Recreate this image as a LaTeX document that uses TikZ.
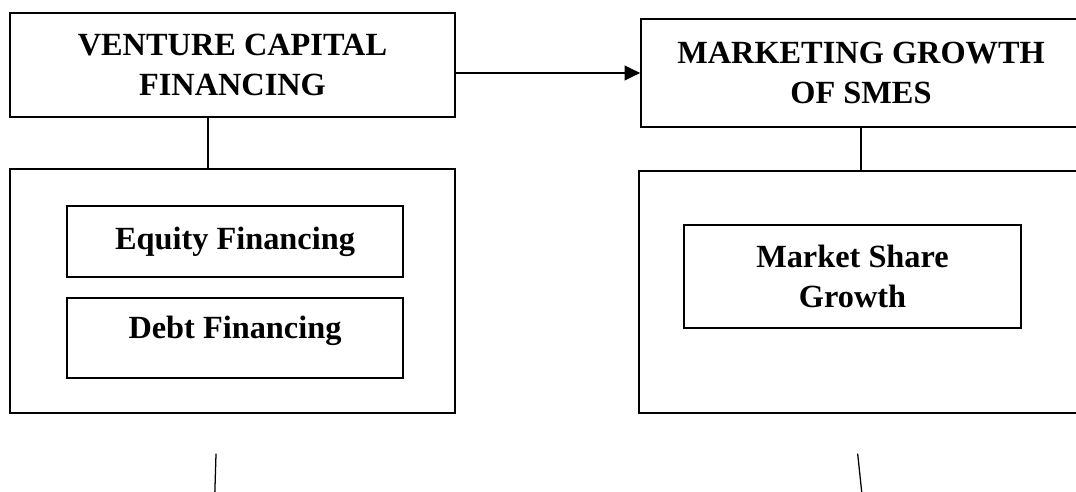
\documentclass[tikz,border=0pt]{standalone}
\usepackage{fontspec}
\setmainfont{Liberation Serif}
\usepackage{tikz}
\usetikzlibrary{arrows.meta,positioning}

\begin{document}
\begin{tikzpicture}[x=0.025cm,y=-0.025cm,line cap=round,line join=miter,
  outerbox/.style={draw=black,line width=1.2pt,inner sep=0pt,align=center},
  innerbox/.style={draw=black,line width=1.1pt,inner sep=0pt,align=center},
  boldtext/.style={font=\bfseries\fontsize{23}{28.4}\selectfont}]
\path[use as bounding box] (0,0) rectangle (1076,492);
\node[outerbox,boldtext,minimum width=11.125cm,minimum height=2.6cm] (vcf) at (232.5,65) {VENTURE CAPITAL\\FINANCING};
\node[outerbox,boldtext,minimum width=11cm,minimum height=2.7cm] (mgs) at (861,73) {MARKETING GROWTH\\OF SMES};
\node[outerbox,minimum width=11.125cm,minimum height=6.1cm] (vcfdim) at (232.5,291) {};
\node[outerbox,minimum width=11.1cm,minimum height=6.05cm] (mgsdim) at (861,292) {};
\node[innerbox,boldtext,minimum width=8.4cm,minimum height=1.775cm] (equity) at (235,241.5) {Equity Financing};
\node[innerbox,boldtext,minimum width=8.4cm,minimum height=2cm,text depth=15.2pt] (debt) at (235,338) {Debt Financing};
\node[innerbox,boldtext,minimum width=8.425cm,minimum height=2.575cm] (share) at (852.5,276.5) {Market Share\\Growth};
\draw[line width=1.3pt,-{Triangle[length=11pt,width=10.5pt]}] (mgs.west -| vcf.east) -- (mgs.west);
\draw[line width=1pt] ([xshift=-0.6125cm]vcf.south) -- ([xshift=-0.6125cm]vcfdim.north);
\draw[line width=1pt] (mgs.south) -- (mgsdim.north);
\draw[line width=0.9pt] (216,454) -- (214.8,494);
\draw[line width=0.9pt] (857.7,454) -- (861.9,494);
\end{tikzpicture}
\end{document}
